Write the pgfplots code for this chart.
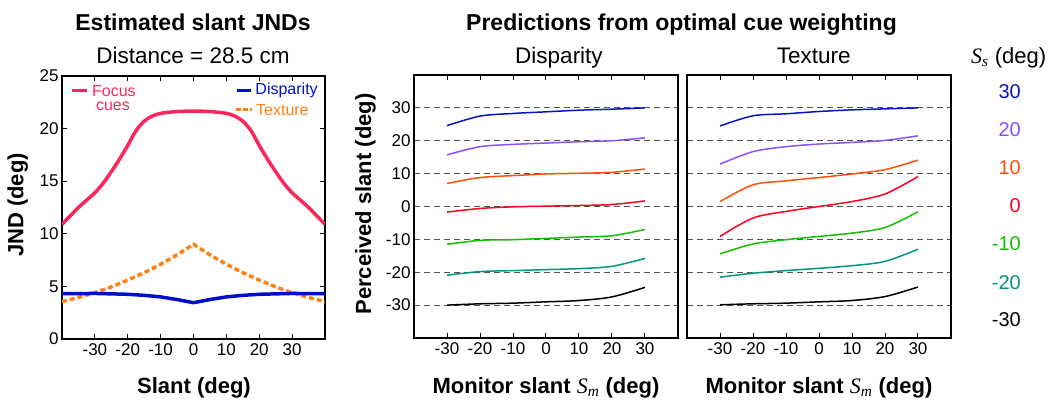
\documentclass[border=0pt]{standalone}
\usepackage{pgfplots}
\pgfplotsset{compat=1.18}
\usepackage{fontspec}
\setmainfont{Liberation Sans}
\newfontfamily\serif{Liberation Serif}
\definecolor{focusred}{RGB}{250,40,90}
\definecolor{dispblue}{RGB}{0,15,200}
\definecolor{texorange}{RGB}{255,130,20}
\definecolor{cA}{RGB}{10,20,190}
\definecolor{cB}{RGB}{140,80,255}
\definecolor{cC}{RGB}{255,80,10}
\definecolor{cD}{RGB}{255,0,30}
\definecolor{cE}{RGB}{20,190,0}
\definecolor{cF}{RGB}{0,150,130}
\definecolor{cG}{RGB}{0,0,0}
\definecolor{gridgray}{RGB}{75,85,85}

\pgfplotsset{
  myaxis/.style={
    scale only axis, width=263pt, height=263pt, anchor=south west,
    axis line style={line width=1.4pt, black},
    tick align=inside, major tick length=5pt,
    tick style={line width=1pt, black},
    xmin=-40, xmax=40,
    xtick={-30,-20,-10,0,10,20,30},
    xticklabels={-30,-20,-10,0,10,20,30},
    tick label style={font=\fontsize{17}{17}\selectfont},
    xticklabel style={yshift=-1pt},
  },
  predaxis/.style={
    myaxis, width=264pt,
    ymin=-40, ymax=40,
    ytick={-30,-20,-10,0,10,20,30},
    ymajorgrids,
    y tick style={draw=none},
    major grid style={dash pattern=on 6pt off 4pt, gridgray, line width=1.1pt},
  },
  pl/.style={line width=1.5pt, smooth, tension=0.5},
}

\begin{document}
\begin{tikzpicture}
\path[use as bounding box] (0,0) rectangle (1050pt,403pt);

% ---------------- Left: JNDs ----------------
\begin{axis}[myaxis, at={(62pt,64pt)},
  ymin=0, ymax=25, ytick={0,5,10,15,20,25}, yticklabels={0,5,10,15,20,25}]
\addplot[focusred, line width=3.5pt, smooth, tension=0.5] coordinates {
(-40,10.9) (-37.5,11.7) (-35,12.5) (-32.5,13.2) (-30,13.9) (-27.5,14.8) (-25,15.9)
(-22.5,17.1) (-20,18.4) (-17.5,19.8) (-15,20.7) (-12.5,21.2) (-10,21.45) (-7.5,21.55)
(-5,21.62) (-2.5,21.65) (0,21.65) (2.5,21.65) (5,21.62) (7.5,21.55) (10,21.45)
(12.5,21.2) (15,20.7) (17.5,19.8) (20,18.4) (22.5,17.1) (25,15.9) (27.5,14.8)
(30,13.9) (32.5,13.2) (35,12.5) (37.5,11.7) (40,10.9)};
\addplot[texorange, line width=3.5pt, dash pattern=on 5pt off 3pt] coordinates {
(-40,3.55) (-35,3.95) (-30,4.4) (-25,4.95) (-20,5.6) (-15,6.3) (-10,7.1) (-5,8.0) (0,9.0)
(5,8.0) (10,7.1) (15,6.3) (20,5.6) (25,4.95) (30,4.4) (35,3.95) (40,3.55)};
\addplot[dispblue, line width=3.5pt] coordinates {
(-40,4.3) (-30,4.33) (-20,4.25) (-15,4.15) (-10,4.0) (-5,3.75) (0,3.45)
(5,3.75) (10,4.0) (15,4.15) (20,4.25) (30,4.33) (40,4.3)};
% legend
\draw[focusred, line width=3.5pt] (axis cs:-36.9,23.6) -- (axis cs:-32.4,23.6);
\node[focusred, anchor=west, inner sep=0, font=\fontsize{16}{16}\selectfont] at (axis cs:-30.9,23.6) {Focus};
\node[focusred, anchor=center, inner sep=0, font=\fontsize{16}{16}\selectfont] at (axis cs:-24.5,22.15) {cues};
\draw[dispblue, line width=3.5pt] (axis cs:13.1,23.6) -- (axis cs:17.4,23.6);
\node[dispblue, anchor=west, inner sep=0, font=\fontsize{16}{16}\selectfont] at (axis cs:18.8,23.6) {Disparity};
\draw[texorange, line width=3.5pt, dash pattern=on 5pt off 2pt] (axis cs:12.8,21.8) -- (axis cs:17.9,21.8);
\node[texorange, anchor=west, inner sep=0, font=\fontsize{16}{16}\selectfont] at (axis cs:19.0,21.8) {Texture};
\end{axis}

% ---------------- Middle: Disparity ----------------
\begin{axis}[predaxis, at={(414pt,65pt)}, yticklabels={-30,-20,-10,0,10,20,30}]
\addplot[cA, pl] coordinates {(-30,24.6) (-20,27.5) (-10,28.3) (0,28.8) (10,29.3) (20,29.6) (30,30.0)};
\addplot[cB, pl] coordinates {(-30,15.7) (-20,18.2) (-10,18.9) (0,19.3) (10,19.7) (20,20.0) (30,20.9)};
\addplot[cC, pl] coordinates {(-30,7.0) (-20,8.8) (-10,9.4) (0,9.9) (10,10.1) (20,10.4) (30,11.4)};
\addplot[cD, pl] coordinates {(-30,-1.7) (-20,-0.6) (-10,-0.1) (0,0.1) (10,0.3) (20,0.6) (30,1.7)};
\addplot[cE, pl] coordinates {(-30,-11.5) (-20,-10.3) (-10,-10.1) (0,-9.7) (10,-9.3) (20,-8.9) (30,-7.0)};
\addplot[cF, pl] coordinates {(-30,-20.9) (-20,-19.8) (-10,-19.5) (0,-19.2) (10,-18.9) (20,-18.2) (30,-15.8)};
\addplot[cG, pl] coordinates {(-30,-30.0) (-20,-29.6) (-10,-29.4) (0,-29.0) (10,-28.6) (20,-27.5) (30,-24.6)};
\end{axis}

% ---------------- Right: Texture ----------------
\begin{axis}[predaxis, at={(687pt,65pt)}, yticklabels={}]
\addplot[cA, pl] coordinates {(-30,24.5) (-20,27.6) (-10,28.2) (0,28.9) (10,29.4) (20,29.7) (30,30.0)};
\addplot[cB, pl] coordinates {(-30,12.9) (-20,16.7) (-10,18.2) (0,19.0) (10,19.5) (20,20.1) (30,21.5)};
\addplot[cC, pl] coordinates {(-30,1.5) (-20,6.6) (-10,7.8) (0,8.8) (10,9.9) (20,11.2) (30,14.1)};
\addplot[cD, pl] coordinates {(-30,-9.1) (-20,-3.5) (-10,-1.5) (0,0.0) (10,1.5) (20,3.8) (30,9.1)};
\addplot[cE, pl] coordinates {(-30,-14.4) (-20,-11.4) (-10,-10.1) (0,-9.1) (10,-8.1) (20,-6.4) (30,-1.6)};
\addplot[cF, pl] coordinates {(-30,-21.5) (-20,-20.3) (-10,-19.5) (0,-18.8) (10,-18.0) (20,-16.7) (30,-13.0)};
\addplot[cG, pl] coordinates {(-30,-29.9) (-20,-29.6) (-10,-29.4) (0,-29.0) (10,-28.6) (20,-27.4) (30,-24.5)};
\end{axis}

% ---------------- Texts ----------------
\tikzset{every node/.append style={inner sep=0pt}}
\node[anchor=base, font=\bfseries\fontsize{23}{23}\selectfont] at (193pt,372.3pt) {Estimated slant JNDs};
\node[anchor=base, font=\fontsize{22.5}{22.5}\selectfont] at (193pt,339pt) {Distance = 28.5 cm};
\node[anchor=base, font=\bfseries\fontsize{23}{23}\selectfont] at (681.5pt,372.3pt) {Predictions from optimal cue weighting};
\node[anchor=base, font=\fontsize{22.5}{22.5}\selectfont] at (559pt,339pt) {Disparity};
\node[anchor=base, font=\fontsize{22.5}{22.5}\selectfont] at (813.7pt,339pt) {Texture};
\node[anchor=base west, font=\fontsize{22}{22}\selectfont] at (971pt,339.5pt) {{\serif\itshape S\textsubscript{s}} (deg)};

\node[anchor=base, font=\bfseries\fontsize{22}{22}\selectfont] at (194pt,9.7pt) {Slant (deg)};
\node[anchor=base, font=\bfseries\fontsize{22}{22}\selectfont] at (546pt,9.7pt) {Monitor slant {\serif\mdseries\itshape S\textsubscript{m}} (deg)};
\node[anchor=base, font=\bfseries\fontsize{22}{22}\selectfont] at (819pt,9.7pt) {Monitor slant {\serif\mdseries\itshape S\textsubscript{m}} (deg)};
\node[anchor=base, rotate=90, font=\bfseries\fontsize{22}{22}\selectfont] at (23.3pt,198pt) {JND (deg)};
\node[anchor=base, rotate=90, font=\bfseries\fontsize{22}{22}\selectfont] at (371pt,199pt) {Perceived slant (deg)};

\node[anchor=east, text=cA, font=\fontsize{20}{20}\selectfont] at (1021pt,311.3pt) {30};
\node[anchor=east, text=cB, font=\fontsize{20}{20}\selectfont] at (1021pt,273.7pt) {20};
\node[anchor=east, text=cC, font=\fontsize{20}{20}\selectfont] at (1021pt,235.7pt) {10};
\node[anchor=east, text=cD, font=\fontsize{20}{20}\selectfont] at (1021pt,197.3pt) {0};
\node[anchor=east, text=cE, font=\fontsize{20}{20}\selectfont] at (1021pt,159pt) {-10};
\node[anchor=east, text=cF, font=\fontsize{20}{20}\selectfont] at (1021pt,120.7pt) {-20};
\node[anchor=east, text=cG, font=\fontsize{20}{20}\selectfont] at (1021pt,83.7pt) {-30};
\end{tikzpicture}
\end{document}
